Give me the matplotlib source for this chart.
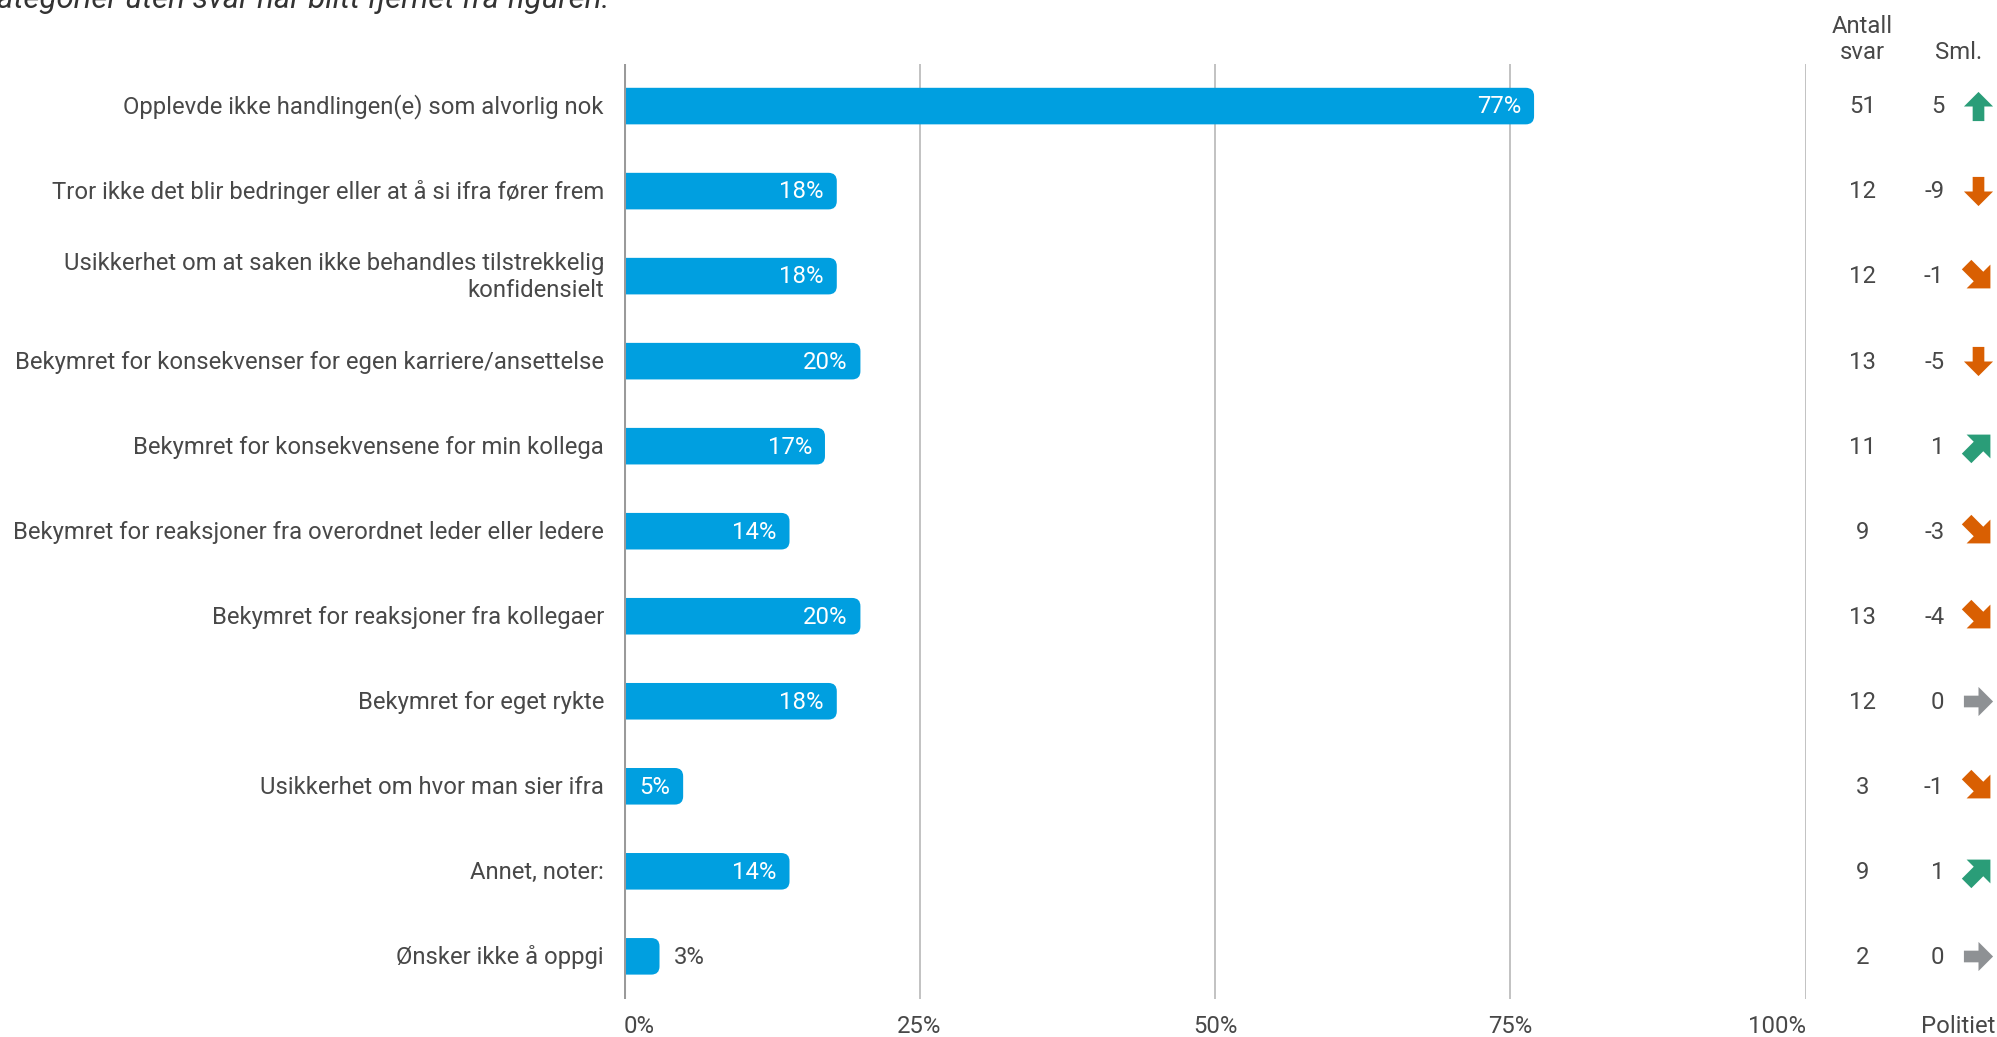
import numpy as np
import matplotlib
matplotlib.use("Agg")
import matplotlib.pyplot as plt
from matplotlib.patches import FancyBboxPatch
from matplotlib.path import Path
from matplotlib.markers import MarkerStyle
from matplotlib.transforms import Affine2D

plt.rcParams['font.family'] = ['Roboto', 'DejaVu Sans']

labels = ['Opplevde ikke handlingen(e) som alvorlig nok',
          'Tror ikke det blir bedringer eller at å si ifra fører frem',
          'Usikkerhet om at saken ikke behandles tilstrekkelig\nkonfidensielt',
          'Bekymret for konsekvenser for egen karriere/ansettelse',
          'Bekymret for konsekvensene for min kollega',
          'Bekymret for reaksjoner fra overordnet leder eller ledere',
          'Bekymret for reaksjoner fra kollegaer',
          'Bekymret for eget rykte',
          'Usikkerhet om hvor man sier ifra',
          'Annet, noter:',
          'Ønsker ikke å oppgi']
pct = [77, 18, 18, 20, 17, 14, 20, 18, 5, 14, 3]
antall = [51, 12, 12, 13, 11, 9, 13, 12, 3, 9, 2]
sml = [5, -9, -1, -5, 1, -3, -4, 0, -1, 1, 0]
xticks = [0, 25, 50, 75, 100]
xticklabels = ['0%', '25%', '50%', '75%', '100%']

BLUE = '#009FE0'
TXT = '#484848'
GREEN = '#2A9D78'
ORANGE = '#D95F02'
GRAY = '#8E9194'
FS = 17.2

fig = plt.figure(figsize=(19.97, 10.37), dpi=100)
ax = fig.add_axes([0.3125, 0.0368, 0.5918, 0.9019])
ax.set_xlim(0, 100)
ax.set_ylim(10.5, -0.5)
ax.axis('off')

# grid lines
for t in xticks[1:]:
    ax.axvline(t, color='#BDBDBD', lw=1.3, zorder=0)
ax.axvline(0, color='#9A9A9A', lw=2.2, zorder=3)

# bars with rounded right end (left end clipped by the axes)
bh = 0.43
r = 0.7
aspect = 9.28 / 66.8
for i, v in enumerate(pct):
    box = FancyBboxPatch((-3, i - bh / 2), v + 3, bh,
                         boxstyle='round,pad=0,rounding_size=%g' % r,
                         mutation_aspect=aspect, fc=BLUE, ec='none', zorder=2)
    ax.add_patch(box)
    if v >= 5:
        ax.text(v - 1.1, i + 0.01, '%d%%' % v, color='white', fontsize=FS,
                ha='right', va='center', zorder=4)
    else:
        ax.text(v + 1.2, i + 0.01, '%d%%' % v, color=TXT, fontsize=FS,
                ha='left', va='center', zorder=4)
    ax.text(-1.7, i + 0.01, labels[i], color=TXT, fontsize=FS, ha='right',
            va='center', linespacing=1.2, clip_on=False)

# x tick labels
for t, lab in zip(xticks, xticklabels):
    ha = 'left' if t == 0 else ('right' if t == 100 else 'center')
    ax.text(t, 10.83, lab, color=TXT, fontsize=FS, ha=ha, va='center', clip_on=False)

# right columns
up = Path([(-0.2, -0.5), (0.2, -0.5), (0.2, 0.0), (0.5, 0.0), (0.0, 0.5),
           (-0.5, 0.0), (-0.2, 0.0), (-0.2, -0.5)],
          [Path.MOVETO] + [Path.LINETO] * 6 + [Path.CLOSEPOLY])
for i, (n, d) in enumerate(zip(antall, sml)):
    ax.text(104.8, i + 0.01, str(n), color=TXT, fontsize=FS, ha='center', va='center', clip_on=False)
    ax.text(111.7, i + 0.01, str(d), color=TXT, fontsize=FS, ha='right', va='center', clip_on=False)
    if d == 0:
        ang, col = -90, GRAY
    elif d >= 5:
        ang, col = 0, GREEN
    elif d > 0:
        ang, col = -45, GREEN
    elif d <= -5:
        ang, col = 180, ORANGE
    else:
        ang, col = -135, ORANGE
    m = MarkerStyle(up.transformed(Affine2D().rotate_deg(ang)))
    ms = 21 if ang in (0, 180, -90) else 24
    ax.plot([114.6], [i], marker=m, ms=ms, color=col, mec='none', clip_on=False)

ax.text(104.8, -0.5, 'Antall\nsvar', color=TXT, fontsize=FS, ha='center',
        va='bottom', linespacing=1.15, clip_on=False)
ax.text(112.9, -0.5, 'Sml.', color=TXT, fontsize=FS, ha='center',
        va='bottom', clip_on=False)
ax.text(112.9, 10.83, 'Politiet', color=TXT, fontsize=FS, ha='center',
        va='center', clip_on=False)

fig.text(609 / 1997, 1 - 8 / 1037, 'Kategorier uten svar har blitt fjernet fra figuren.',
         color='#333333', fontsize=22.5, style='italic', ha='right', va='baseline')

fig.savefig('out.png', dpi=100)
